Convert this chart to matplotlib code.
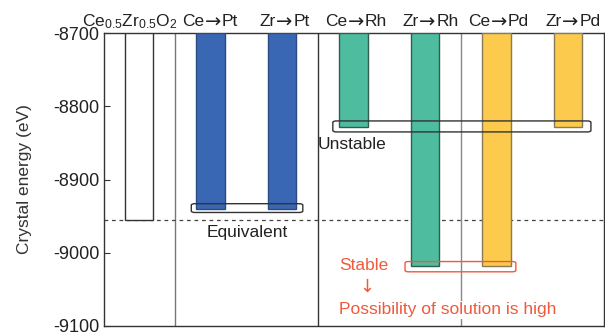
import matplotlib.pyplot as plt
from matplotlib.patches import FancyBboxPatch

plt.rcParams['font.family'] = ['Liberation Sans', 'DejaVu Sans']
plt.rcParams['mathtext.default'] = 'regular'
plt.rcParams['axes.unicode_minus'] = False

# data
host = 'Ce0.5Zr0.5O2'
dopant_site = ['Ce', 'Zr', 'Ce', 'Zr', 'Ce', 'Zr']
dopant = ['Pt', 'Pt', 'Rh', 'Rh', 'Pd', 'Pd']
energies = [-8955, -8940, -8940, -8828, -9018, -9018, -8828]
face_colors = ['white', '#3a67b4', '#3a67b4', '#4ebd9f', '#4ebd9f', '#fcca4c', '#fcca4c']
edge_colors = ['#333333', '#2b4a80', '#2b4a80', '#2f5e4e', '#2f5e4e', '#8a7a55', '#8a7a55']
top = -8700
reference = -8955

fig = plt.figure(figsize=(6.05, 3.34), dpi=100)
ax = fig.add_axes([0.172, 0.024, 0.826, 0.877])

x = list(range(len(energies)))
heights = [e - top for e in energies]
ax.bar(x, heights, bottom=top, width=0.4, color=face_colors,
       edgecolor=edge_colors, linewidth=1.0, zorder=3)

# group separators
ax.axvline(0.5, color='#777777', lw=1.0, zorder=1)
ax.axvline(2.5, color='#333333', lw=1.0, zorder=1)
ax.axvline(4.5, color='#888888', lw=1.0, zorder=1)

# reference level
ax.axhline(reference, color='#444444', lw=0.9, ls=(0, (3, 3)), zorder=2)

ax.set_xlim(-0.49, 6.5)
ax.set_ylim(-9100, -8700)
ax.set_yticks([-9100, -9000, -8900, -8800, -8700])
ax.set_ylabel('Crystal energy (eV)', fontsize=12.5, color='#333333', labelpad=15)
ax.tick_params(axis='y', direction='in', length=4, labelsize=13, colors='#333333')
ax.tick_params(axis='y', labelcolor='#222222')
ax.set_xticks([])
for s in ax.spines.values():
    s.set_color('#333333')
    s.set_linewidth(1.0)

# category labels above the axes (arrow drawn in DejaVu for a full-size glyph)
lab_kw = dict(xycoords=ax.get_xaxis_transform(), textcoords='offset points',
              va='baseline', fontsize=12.5, color='#222222', annotation_clip=False)
ax.annotate(r'$Ce_{0.5}Zr_{0.5}O_{2}$', (0, 1), xytext=(-7, 5), ha='center', **lab_kw)
for i, (a, b) in enumerate(zip(dopant_site, dopant), start=1):
    ax.annotate(a, (i, 1), xytext=(-4.6, 5), ha='right', **lab_kw)
    ax.annotate(b, (i, 1), xytext=(8.2, 5), ha='left', **lab_kw)
    ax.annotate('→', (i, 1), xytext=(1.8, 4.2), xycoords=ax.get_xaxis_transform(),
                textcoords='offset points', ha='center', va='baseline', fontsize=14,
                color='#222222', family='DejaVu Sans', annotation_clip=False)

# annotations
def rbox(x0, x1, y0, y1, color):
    p = FancyBboxPatch((x0, y1), x1 - x0, y0 - y1,
                       boxstyle='round,pad=0,rounding_size=0.05',
                       mutation_aspect=40, fill=False, edgecolor=color,
                       lw=1.0, zorder=4)
    ax.add_patch(p)

rbox(0.73, 2.29, -8933, -8945, '#333333')
ax.text(1.51, -8972, 'Equivalent', ha='center', va='center', fontsize=12.5, color='#222222')

rbox(2.71, 6.32, -8820, -8835, '#333333')
ax.text(2.5, -8852, 'Unstable', ha='left', va='center', fontsize=12.5, color='#222222',
        zorder=5)

red = '#f05a3c'
rbox(3.72, 5.27, -9012, -9026, red)
ax.text(2.8, -9017, 'Stable', ha='left', va='center', fontsize=12.5, color=red, zorder=5)
ax.text(3.18, -9046, '↓', ha='center', va='center', fontsize=13, color=red, zorder=5,
        family='DejaVu Sans')
ax.text(2.8, -9078, 'Possibility of solution is high', ha='left', va='center',
        fontsize=12.5, color=red, zorder=5,
        bbox=dict(facecolor='white', edgecolor='none', pad=1))

fig.savefig('out.png', dpi=100)
